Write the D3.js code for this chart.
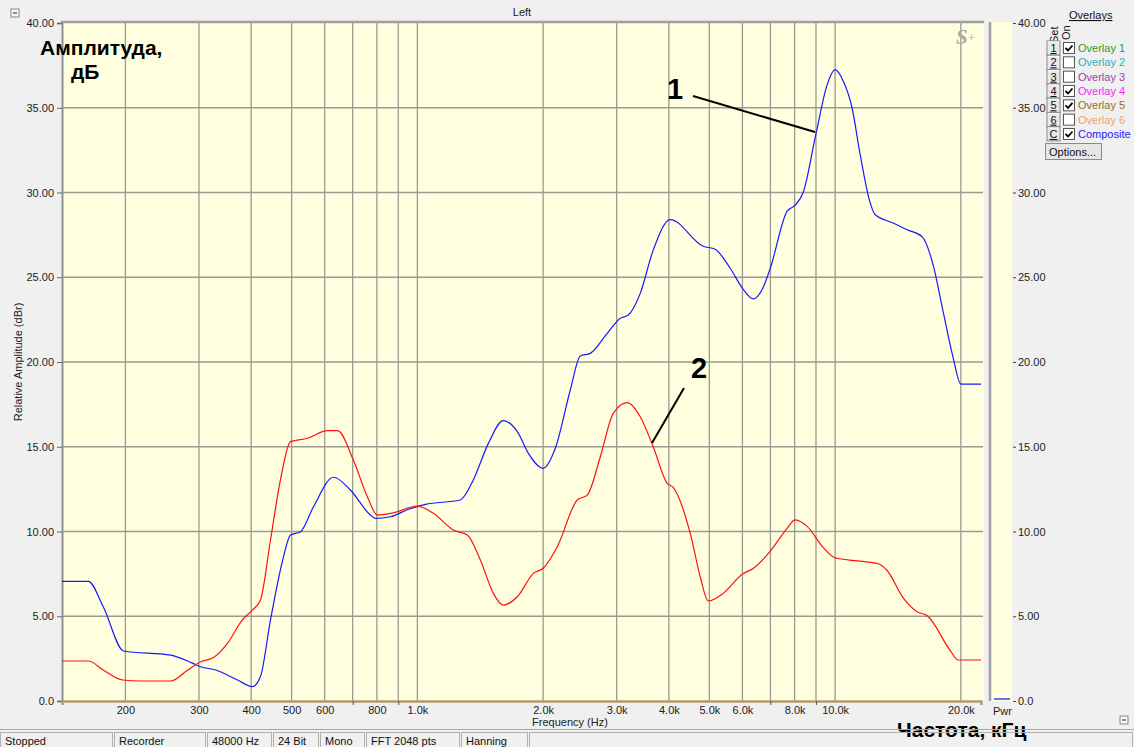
<!DOCTYPE html>
<html><head><meta charset="utf-8">
<script src="https://cdn.jsdelivr.net/npm/d3@7"></script>
<style>
body{margin:0;background:#f0f0f0;overflow:hidden;}
svg{display:block;font-family:"Liberation Sans",Arial,sans-serif;}
</style>
</head><body>
<svg id="c" width="1134" height="747"></svg>
<script>
// ---- data ----
const compositeFreq = [141,163,177,198,257,290,303,329,371,403,421,445,475,497,525,564,630,691,772,793,862,950,1045,1267,1361,1479,1606,1735,1844,2000,2139,2323,2455,2594,2848,3060,3198,3416,3669,4030,4833,5163,5608,6025,6365,6725,6990,7678,8024,8385,9005,9570,10000,10450,10980,11470,12130,12460,13770,14870,16150,17160,18130,19150,20000,22350];
const compositeDb   = [7.06,7.06,5.56,2.95,2.71,2.22,2.02,1.83,1.24,0.85,1.44,4.78,8.22,9.79,9.99,11.46,13.2,12.45,10.97,10.78,10.87,11.3,11.6,11.86,13.04,15.2,16.54,15.89,14.61,13.73,14.91,18.35,20.35,20.51,21.69,22.58,22.77,24.05,26.6,28.4,26.83,26.65,25.53,24.29,23.72,24.4,25.5,28.9,29.25,30.0,33.5,36.35,37.25,36.6,35.0,32.3,29.4,28.7,28.2,27.8,27.4,25.75,23.0,20.3,18.7,18.7];
const overlayFreq = [141,163,177,197,218,257,282,303,325,351,381,403,421,445,470,497,546,609,644,703,759,802,876,1000,1092,1219,1317,1415,1520,1606,1735,1895,2000,2162,2414,2551,2741,2944,3180,3416,3669,3964,4097,4499,4754,4968,5396,5991,6365,6990,7678,8024,8570,9361,10000,11290,12670,13320,14540,15710,16600,18840,19700,22350];
const overlayDb   = [2.36,2.36,1.83,1.24,1.18,1.18,1.83,2.32,2.56,3.4,4.78,5.37,5.96,9.5,13.04,15.3,15.5,15.95,15.95,14.2,12.05,10.97,11.1,11.5,11.07,10.09,9.79,8.32,6.35,5.66,6.15,7.53,7.83,9.1,11.86,12.15,14.41,16.97,17.6,16.77,15.0,12.84,12.6,9.9,7.33,5.9,6.35,7.48,7.82,8.83,10.19,10.68,10.3,9.06,8.45,8.27,8.1,7.7,6.1,5.27,5.04,3.0,2.42,2.42];

const gridFreqs   = [200,300,400,500,600,700,800,900,1000,2000,3000,4000,5000,6000,7000,8000,9000,10000,20000];
const labelFreqs  = [200,300,400,500,600,800,1000,2000,3000,4000,5000,6000,8000,10000,20000];
const freqLabels  = ["200","300","400","500","600","800","1.0k","2.0k","3.0k","4.0k","5.0k","6.0k","8.0k","10.0k","20.0k"];
const dbTicks     = [0,5,10,15,20,25,30,35,40];
const dbLabels    = ["0.0","5.00","10.00","15.00","20.00","25.00","30.00","35.00","40.00"];

const legendSets   = ["1","2","3","4","5","6","C"];
const legendNames  = ["Overlay 1","Overlay 2","Overlay 3","Overlay 4","Overlay 5","Overlay 6","Composite"];
const legendColors = ["#2f9a2f","#22b4c4","#a040b0","#ff22ff","#9b6a32","#f2a06e","#2222ff"];
const legendOn     = [true,false,false,true,true,false,true];

const statusTexts  = ["Stopped","Recorder","48000 Hz","24 Bit","Mono","FFT 2048 pts","Hanning",""];
const statusEdges  = [0,114,207,273,320,366,461,529,1134];

// ---- drawing ----
const svg = d3.select("#c");
const L = 62, R = 981, T = 23, B = 701;
const x = d3.scaleLog().domain([141, 22350]).range([L, R]);
const y = d3.scaleLinear().domain([0, 40]).range([B, T]);

svg.append("text").attr("x",522).attr("y",16).attr("text-anchor","middle").attr("font-size",11).attr("fill","#222").text("Left");
function minBox(bx,by){
  svg.append("rect").attr("x",bx).attr("y",by).attr("width",8).attr("height",8).attr("fill","#f6f6f6").attr("stroke","#888");
  svg.append("line").attr("x1",bx+2).attr("x2",bx+6).attr("y1",by+4).attr("y2",by+4).attr("stroke","#222");
}
minBox(11,9); minBox(1120,716);

svg.append("rect").attr("x",L).attr("y",T-1).attr("width",R-L+3).attr("height",B-T+1).attr("fill","#ffffe0");
svg.append("line").attr("x1",L-1).attr("x2",R+3).attr("y1",T-1).attr("y2",T-1).attr("stroke","#a0a0a0").attr("stroke-width",2.5);

const g = svg.append("g");
g.selectAll("line.v").data(gridFreqs).join("line")
  .attr("x1",d=>x(d)).attr("x2",d=>x(d)).attr("y1",T).attr("y2",B)
  .attr("stroke","#9a9a90").attr("stroke-width",1.3);
g.selectAll("line.h").data(dbTicks.slice(1,-1)).join("line")
  .attr("x1",L).attr("x2",R+2).attr("y1",d=>y(d)).attr("y2",d=>y(d))
  .attr("stroke","#9a9a90").attr("stroke-width",1.3);

const yAxisL = d3.axisLeft(y).tickValues(dbTicks).tickFormat((d,i)=>dbLabels[i]).tickSize(5).tickPadding(3);
const ga = svg.append("g").attr("transform",`translate(${L},0)`).call(yAxisL);
ga.select(".domain").attr("stroke","#909090").attr("stroke-width",2);
ga.selectAll(".tick line").attr("stroke","#666");
ga.selectAll("text").attr("font-size",11).attr("fill","#222").attr("font-family","Liberation Sans, Arial, sans-serif");

const xAxis = d3.axisBottom(x).tickValues(gridFreqs).tickFormat(d=>{const i=labelFreqs.indexOf(d);return i<0?"":freqLabels[i];}).tickSize(4).tickPadding(1);
const gx = svg.append("g").attr("transform",`translate(0,${B})`).call(xAxis);
gx.select(".domain").attr("stroke","#b09a70").attr("stroke-width",2.5);
gx.selectAll(".tick line").attr("stroke","#555").attr("opacity",d=>labelFreqs.indexOf(d)<0?1:0);
gx.selectAll("text").attr("font-size",11).attr("fill","#222").attr("font-family","Liberation Sans, Arial, sans-serif");

svg.append("text").attr("transform","translate(22,362) rotate(-90)").attr("text-anchor","middle").attr("font-size",11).attr("fill","#222").text("Relative Amplitude (dBr)");
svg.append("text").attr("x",570).attr("y",726).attr("text-anchor","middle").attr("font-size",11).attr("fill","#222").text("Frequency (Hz)");

const line = d3.line().x(d=>x(d[0])).y(d=>y(d[1])).curve(d3.curveMonotoneX);
svg.append("clipPath").attr("id","pc").append("rect").attr("x",L).attr("y",T).attr("width",R-L+2).attr("height",B-T);
svg.append("path").attr("clip-path","url(#pc)").attr("d",line(d3.zip(compositeFreq,compositeDb))).attr("fill","none").attr("stroke","#1818ff").attr("stroke-width",1.2);
svg.append("path").attr("clip-path","url(#pc)").attr("d",line(d3.zip(overlayFreq,overlayDb))).attr("fill","none").attr("stroke","#ff1010").attr("stroke-width",1.2);

svg.append("text").attr("x",956).attr("y",44).attr("font-family","Liberation Serif, serif").attr("font-style","italic").attr("font-weight","bold").attr("font-size",21).attr("fill","#a8a8a8").text("S");
svg.append("text").attr("x",968).attr("y",42).attr("font-family","Liberation Serif, serif").attr("font-size",12).attr("fill","#a8a8a8").text("+");

svg.append("rect").attr("x",991).attr("y",T-1).attr("width",21).attr("height",B-T+1).attr("fill","#ffffe0");
svg.append("line").attr("x1",990).attr("x2",990).attr("y1",T-1).attr("y2",B).attr("stroke","#a0a0a0").attr("stroke-width",2.5);
const yAxisR = d3.axisRight(y).tickValues(dbTicks).tickFormat((d,i)=>dbLabels[i]).tickSize(3).tickPadding(2);
const gr = svg.append("g").attr("transform",`translate(1013,0)`).call(yAxisR);
gr.select(".domain").remove();
gr.selectAll(".tick line").attr("stroke","#444");
gr.selectAll("text").attr("font-size",11).attr("fill","#222").attr("font-family","Liberation Sans, Arial, sans-serif");
svg.append("line").attr("x1",994).attr("x2",1010).attr("y1",y(0)-2).attr("y2",y(0)-2).attr("stroke","#4040ff").attr("stroke-width",1.5);
svg.append("text").attr("x",993).attr("y",715).attr("font-size",11).attr("fill","#222").text("Pwr");

svg.append("text").attr("x",1069).attr("y",19).attr("font-size",11).attr("fill","#111").attr("text-decoration","underline").text("Overlays");
svg.append("text").attr("transform","translate(1058,43) rotate(-90)").attr("font-size",11).attr("fill","#111").text("Set");
svg.append("text").attr("transform","translate(1070,40) rotate(-90)").attr("font-size",11).attr("fill","#111").text("On");
legendSets.forEach((s,i)=>{
  const cy = 48 + i*14.33;
  svg.append("rect").attr("x",1047).attr("y",cy-7).attr("width",13).attr("height",14).attr("fill","#e8e8e8").attr("stroke","#8a8a8a");
  svg.append("line").attr("x1",1048).attr("x2",1059).attr("y1",cy-6).attr("y2",cy-6).attr("stroke","#fff");
  svg.append("text").attr("x",1053.5).attr("y",cy+4).attr("text-anchor","middle").attr("font-size",11).attr("fill","#111").attr("text-decoration","underline").text(s);
  svg.append("rect").attr("x",1063.5).attr("y",cy-5.5).attr("width",11).attr("height",11).attr("fill","#fff").attr("stroke","#555");
  if(legendOn[i]) svg.append("path").attr("d",`M${1065.5},${cy} l2.5,2.5 l4.5,-5`).attr("fill","none").attr("stroke","#000").attr("stroke-width",1.8);
  svg.append("text").attr("x",1078).attr("y",cy+4).attr("font-size",11).attr("fill",legendColors[i]).text(legendNames[i]);
});
svg.append("rect").attr("x",1045.5).attr("y",143.5).attr("width",56).attr("height",16).attr("fill","#e6e6e6").attr("stroke","#8a8a8a");
svg.append("text").attr("x",1049).attr("y",155.5).attr("font-size",11).attr("fill","#111").text("Options...");

svg.append("text").attr("x",40).attr("y",55).attr("font-size",21).attr("font-weight","bold").attr("fill","#000").text("Амплитуда,");
svg.append("text").attr("x",71).attr("y",79).attr("font-size",21).attr("font-weight","bold").attr("fill","#000").text("дБ");
svg.append("text").attr("x",897).attr("y",737).attr("font-size",21).attr("font-weight","bold").attr("fill","#000").text("Частота, кГц");
svg.append("text").attr("x",667).attr("y",99).attr("font-size",29).attr("font-weight","bold").attr("fill","#000").text("1");
svg.append("line").attr("x1",693).attr("y1",96).attr("x2",815).attr("y2",132).attr("stroke","#000").attr("stroke-width",2);
svg.append("text").attr("x",691).attr("y",378).attr("font-size",29).attr("font-weight","bold").attr("fill","#000").text("2");
svg.append("line").attr("x1",684).attr("y1",388).attr("x2",652).attr("y2",443).attr("stroke","#000").attr("stroke-width",2);

svg.append("line").attr("x1",0).attr("x2",1134).attr("y1",729.5).attr("y2",729.5).attr("stroke","#a8a8a8");
statusTexts.forEach((t,i)=>{
  const x0 = statusEdges[i], x1 = statusEdges[i+1]-2;
  svg.append("rect").attr("x",x0+0.5).attr("y",732.5).attr("width",x1-x0).attr("height",15).attr("fill","none").attr("stroke","#b0b0b0");
  svg.append("text").attr("x",x0+5).attr("y",745).attr("font-size",11).attr("fill","#111").text(t);
});
</script>
</body></html>
